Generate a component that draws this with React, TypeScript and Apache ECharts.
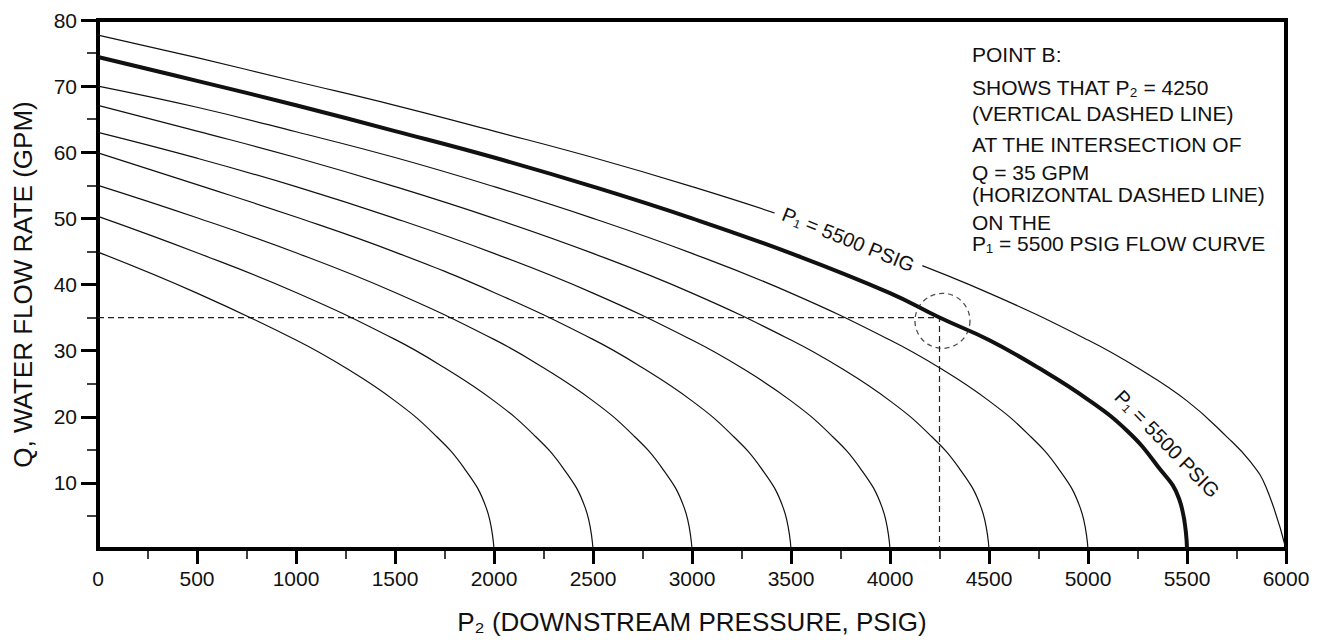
import React, { useEffect, useRef } from "react";
import * as echarts from "echarts";

// ---- Data ----
// Upstream pressure P1 (PSIG) for each flow curve
const p1Values = [2000, 2500, 3000, 3500, 4000, 4500, 5000, 5500, 6000];

// Downstream pressure P2 (PSIG) and flow Q (GPM)
const p2_2000 = [0, 500, 1000, 1250, 1500, 1700, 1850, 1960, 2000];
const q_2000 = [44.9, 38.7, 31.6, 27.4, 22.4, 17.3, 12.2, 6.3, 0];

const p2_2500 = [0, 500, 1000, 1500, 1750, 2000, 2200, 2350, 2460, 2500];
const q_2500 = [50.3, 44.8, 38.8, 31.7, 27.4, 22.4, 17.3, 12.2, 6.3, 0];

const p2_3000 = [0, 500, 1000, 1500, 2000, 2250, 2500, 2700, 2850, 2960, 3000];
const q_3000 = [55.0, 50.1, 44.8, 38.8, 31.7, 27.4, 22.4, 17.3, 12.2, 6.3, 0];

const p2_3500 = [0, 500, 1000, 1500, 2000, 2500, 2750, 3000, 3200, 3350, 3460, 3500];
const q_3500 = [59.9, 55.1, 50.2, 44.9, 38.8, 31.7, 27.4, 22.4, 17.3, 12.2, 6.3, 0];

const p2_4000 = [0, 500, 1000, 1500, 2000, 2500, 3000, 3250, 3500, 3700, 3850, 3960, 4000];
const q_4000 = [63.0, 59.1, 54.8, 50.0, 44.7, 38.7, 31.6, 27.4, 22.4, 17.3, 12.2, 6.3, 0];

const p2_4500 = [0, 500, 1000, 1500, 2000, 2500, 3000, 3500, 3750, 4000, 4200, 4350, 4460, 4500];
const q_4500 = [67.1, 63.2, 59.2, 54.8, 50.0, 44.7, 38.7, 31.6, 27.4, 22.4, 17.3, 12.2, 6.3, 0];

const p2_5000 = [0, 500, 1000, 1500, 2000, 2500, 3000, 3500, 4000, 4250, 4500, 4700, 4850, 4960, 5000];
const q_5000 = [70.0, 66.8, 63.1, 59.2, 54.8, 50.0, 44.7, 38.7, 31.6, 27.4, 22.4, 17.3, 12.2, 6.3, 0];

const p2_5500 = [0, 500, 1000, 1500, 2000, 2500, 3000, 3500, 4000, 4250, 4500, 4750, 5000, 5200, 5350, 5460, 5500];
const q_5500 = [74.4, 70.8, 67.1, 63.2, 59.2, 54.8, 50.0, 44.7, 38.7, 35.0, 31.6, 27.4, 22.6, 17.8, 12.6, 7.6, 0];

const p2_6000 = [0, 500, 1000, 1500, 2000, 2500, 3000, 3500, 4000, 4500, 5000, 5250, 5500, 5700, 5820, 5900, 6000];
const q_6000 = [77.7, 74.3, 70.7, 67.1, 63.2, 59.2, 54.8, 50.0, 44.7, 38.7, 31.6, 27.4, 22.4, 17.0, 13.2, 9.3, 0];

const curveP2 = [p2_2000, p2_2500, p2_3000, p2_3500, p2_4000, p2_4500, p2_5000, p2_5500, p2_6000];
const curveQ = [q_2000, q_2500, q_3000, q_3500, q_4000, q_4500, q_5000, q_5500, q_6000];

const highlightedP1 = 5500;

// Point B: P2 = 4250 at Q = 35 GPM
const pointB = [4250, 35];
const circleCenter = [4265, 34.5];

// Tick values
const xLabelValues = [0, 500, 1000, 1500, 2000, 2500, 3000, 3500, 4000, 4500, 5000, 5500, 6000];
const xMajorTicks = [500, 1000, 1500, 2000, 2500, 3000, 3500, 4000, 4500, 5000, 5500, 6000];
const xMinorTicks = [250, 750, 1250, 1750, 2250, 2750, 3250, 3750, 4250, 4750, 5250, 5750];
const yLabelValues = [10, 20, 30, 40, 50, 60, 70, 80];
const yMajorTicks = [10, 20, 30, 40, 50, 60, 70, 80];
const yMinorTicks = [5, 15, 25, 35, 45, 55, 65, 75];

// Annotation anchors (data coordinates)
const labelTopAnchor = [3790, 46.8];
const labelSideAnchor = [5400, 15.9];

const noteLines = [
  "POINT B:",
  "SHOWS THAT P₂ = 4250",
  "(VERTICAL DASHED LINE)",
  "AT THE INTERSECTION OF",
  "Q = 35 GPM",
  "(HORIZONTAL DASHED LINE)",
  "ON THE",
  "P₁ = 5500 PSIG FLOW CURVE",
];
const noteLineY = [54, 87, 113, 144, 172, 194, 222, 243];

const FONT = '"Liberation Sans", Arial, Helvetica, sans-serif';
const INK = "#111";

export default function App() {
  const ref = useRef<HTMLDivElement>(null);

  useEffect(() => {
    if (!ref.current) return;
    const chart = echarts.init(ref.current, undefined, { renderer: "svg" });

    const curveSeries = p1Values.map((p1, k) => ({
      type: "line",
      name: `P1 = ${p1} PSIG`,
      xAxisIndex: 0,
      yAxisIndex: 0,
      data: curveP2[k].map((x, i) => [x, curveQ[k][i]]),
      symbol: "none",
      showSymbol: false,
      smooth: 0.45,
      silent: true,
      z: p1 === highlightedP1 ? 4 : 3,
      lineStyle: { color: INK, width: p1 === highlightedP1 ? 4 : 1.2 },
    }));

    const option: any = {
      animation: false,
      textStyle: { fontFamily: FONT, color: INK },
      grid: {
        left: 98,
        right: 31,
        top: 20,
        bottom: 88,
        show: true,
        borderColor: "#000",
        borderWidth: 4,
        backgroundColor: "transparent",
      },
      xAxis: [
        {
          type: "value",
          min: 0,
          max: 6000,
          interval: 500,
          position: "bottom",
          axisLine: { show: true, lineStyle: { color: "#000", width: 4 } },
          axisTick: {
            show: true,
            customValues: xMajorTicks,
            length: 15,
            lineStyle: { color: "#000", width: 3 },
          },
          axisLabel: {
            customValues: xLabelValues,
            margin: 19,
            fontSize: 21,
            color: INK,
            fontFamily: FONT,
            formatter: (v: number) => String(v),
          },
          splitLine: { show: false },
          name: "P₂ (DOWNSTREAM PRESSURE, PSIG)",
          nameLocation: "middle",
          nameGap: 60,
          nameTextStyle: { fontSize: 26, color: INK, fontFamily: FONT },
        },
        {
          type: "value",
          min: 0,
          max: 6000,
          interval: 250,
          position: "bottom",
          axisLine: { show: false },
          axisTick: {
            show: true,
            customValues: xMinorTicks,
            length: 10,
            lineStyle: { color: "#000", width: 1.5 },
          },
          axisLabel: { show: false },
          splitLine: { show: false },
        },
      ],
      yAxis: [
        {
          type: "value",
          min: 0,
          max: 80,
          interval: 10,
          position: "left",
          axisLine: { show: true, lineStyle: { color: "#000", width: 4 } },
          axisTick: {
            show: true,
            customValues: yMajorTicks,
            length: 17,
            lineStyle: { color: "#000", width: 3 },
          },
          axisLabel: {
            customValues: yLabelValues,
            margin: 21,
            fontSize: 21,
            color: INK,
            fontFamily: FONT,
          },
          splitLine: { show: false },
          name: "Q, WATER FLOW RATE (GPM)",
          nameLocation: "middle",
          nameGap: 62,
          nameTextStyle: { fontSize: 26, color: INK, fontFamily: FONT },
        },
        {
          type: "value",
          min: 0,
          max: 80,
          interval: 5,
          position: "left",
          axisLine: { show: false },
          axisTick: {
            show: true,
            customValues: yMinorTicks,
            length: 11,
            lineStyle: { color: "#000", width: 1.5 },
          },
          axisLabel: { show: false },
          splitLine: { show: false },
        },
      ],
      series: [
        ...curveSeries,
        {
          type: "line",
          name: "Point B guides",
          xAxisIndex: 0,
          yAxisIndex: 0,
          data: [[0, pointB[1]], [pointB[0], pointB[1]], [pointB[0], 0]],
          symbol: "none",
          silent: true,
          z: 2,
          lineStyle: { color: "#222", width: 1.2, type: [6, 4] },
        },
        {
          type: "scatter",
          name: "Point B",
          xAxisIndex: 0,
          yAxisIndex: 0,
          data: [circleCenter],
          symbol: "circle",
          symbolSize: 55,
          silent: true,
          z: 5,
          itemStyle: {
            color: "rgba(0,0,0,0)",
            borderColor: "#222",
            borderWidth: 1.3,
            borderType: [5, 4],
          },
        },
      ],
    };

    chart.setOption(option);

    const pTop = chart.convertToPixel({ xAxisIndex: 0, yAxisIndex: 0 }, labelTopAnchor) as number[];
    const pSide = chart.convertToPixel({ xAxisIndex: 0, yAxisIndex: 0 }, labelSideAnchor) as number[];

    const elements: any[] = [
      {
        type: "text",
        x: pTop[0],
        y: pTop[1],
        rotation: (-22 * Math.PI) / 180,
        z: 100,
        style: {
          text: "P₁ = 5500 PSIG",
          fontSize: 20,
          fontFamily: FONT,
          fill: INK,
          align: "center",
          verticalAlign: "middle",
          backgroundColor: "#fff",
          padding: [1, 8],
        },
      },
      {
        type: "text",
        x: pSide[0],
        y: pSide[1],
        rotation: (-46 * Math.PI) / 180,
        z: 100,
        style: {
          text: "P₁ = 5500 PSIG",
          fontSize: 20,
          fontFamily: FONT,
          fill: INK,
          align: "center",
          verticalAlign: "middle",
        },
      },
      ...noteLines.map((t, i) => ({
        type: "text",
        x: 972,
        y: noteLineY[i],
        z: 100,
        style: {
          text: t,
          fontSize: 21,
          fontFamily: FONT,
          fill: INK,
          align: "left",
          verticalAlign: "middle",
        },
      })),
    ];

    chart.setOption({ graphic: { elements } });

    return () => {
      chart.dispose();
    };
  }, []);

  return (
    <div
      ref={ref}
      style={{ position: "fixed", left: 0, top: 0, width: 1317, height: 640, background: "#fff" }}
    />
  );
}
